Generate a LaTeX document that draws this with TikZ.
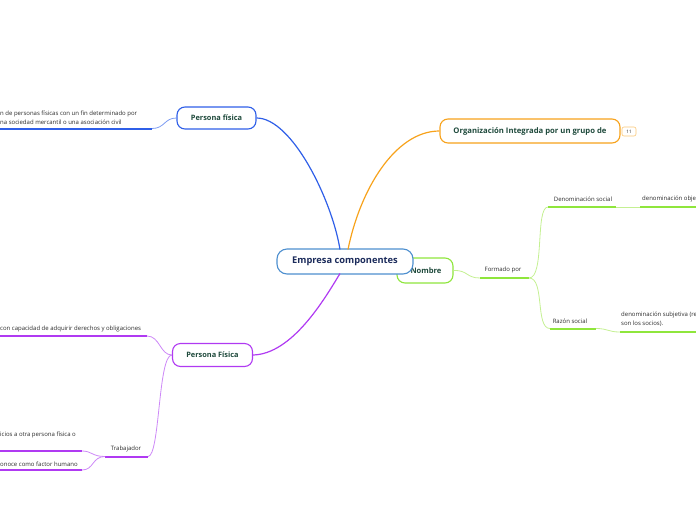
\documentclass[tikz,border=0pt]{standalone}
\usepackage{fontspec}
\setmainfont{Open Sans}
\definecolor{bluea}{HTML}{2F5FE8}
\definecolor{blueb}{HTML}{7D9CF2}
\definecolor{cblue}{HTML}{4D8FCF}
\definecolor{orng}{HTML}{F7A21B}
\definecolor{grn}{HTML}{8FE63C}
\definecolor{grnl}{HTML}{C4F092}
\definecolor{purp}{HTML}{B03AF2}
\definecolor{purpl}{HTML}{CD88F7}
\definecolor{tgreen}{HTML}{1F4A3C}
\definecolor{tnavy}{HTML}{1B2B5B}
\definecolor{tsmall}{HTML}{2A2A2A}
\begin{document}
\begin{tikzpicture}[x=1pt,y=-1pt,
  topic/.style={draw, rounded corners=8pt, fill=white, line width=1.1pt, inner sep=0pt,
    text=tgreen, font=\fontsize{7.4}{9}\selectfont\bfseries},
  small/.style={text=tsmall, font=\fontsize{6}{9}\selectfont, inner sep=0pt, align=left},
  branch/.style={line width=1.2pt},
  uline/.style={line width=2pt},
  thin/.style={line width=0.8pt}]
\useasboundingbox (0,0) rectangle (696,520);

% Nombre (behind center)
\node[topic, draw=grn, minimum width=56pt, minimum height=25pt, text=tgreen, font=\fontsize{7.6}{9}\selectfont\bfseries] (nom) at (425,270.5) {\hspace*{2pt}Nombre};
% center
\node[topic, draw=cblue, minimum width=136pt, minimum height=25pt, rounded corners=10pt, text=tnavy, font=\fontsize{9.3}{11}\selectfont\bfseries] (c) at (345,261.5) {Empresa componentes};

\node[topic, draw=bluea, minimum width=79pt, minimum height=22pt] (pf1) at (216.5,118) {Persona física};
\node[topic, draw=orng, minimum width=180pt, minimum height=24pt, font=\fontsize{7.7}{9}\selectfont\bfseries] (org) at (530,131) {Organización Integrada por un grupo de};
\node[draw=orng!60, fill=white, rounded corners=2pt, line width=0.6pt, minimum width=14pt, minimum height=9pt, inner sep=0pt, text=tsmall, font=\fontsize{4.6}{5}\selectfont] (badge) at (629,131.5) {11};
\node[topic, draw=purp, minimum width=80pt, minimum height=23pt] (pf2) at (212.5,355) {Persona Física};

% main branches
\coordinate (cb1) at (340,249.5);
\coordinate (co1) at (348,249.5);
\coordinate (cp1) at (340,273.5);
\draw[branch, bluea] (pf1.east) .. controls (292,118) and (332,200) .. (cb1);
\draw[branch, orng] (co1) .. controls (360,190) and (395,131) .. (org.west);
\draw[branch, purp] (pf2.east) .. controls (292,354) and (324,300) .. (cp1);

% Persona fisica (top) left
\coordinate (a1) at (152,128.5);
\coordinate (a0) at (0,128.5);
\node[small, anchor=west] (ta) at (0,117.5) {n de personas físicas con un fin determinado por\\na sociedad mercantil o una asociación civil};
\draw[thin, blueb] (pf1.west) .. controls (164,118) and (165,128.5) .. (a1);
\draw[uline, bluea] (a1) -- (a0);

% Nombre -> Formado por
\coordinate (f0) at (480,278);
\coordinate (f1) at (529,278);
\node[small] (tf) at (503,270) {Formado por};
\draw[thin, grnl] (nom.east) .. controls (468,270) and (466,278) .. (f0);
\draw[uline, grn] (f0) -- (f1);

% Denominacion social
\coordinate (d0) at (548,207);
\coordinate (d1) at (616,207);
\coordinate (d2) at (640,207);
\coordinate (d3) at (696,207);
\node[small] (td) at (583,199) {Denominación social};
\draw[thin, grnl] (f1) .. controls (545,278) and (535,207) .. (d0);
\draw[uline, grn] (d0) -- (d1);
\draw[thin, grnl] (d1) -- (d2);
\draw[uline, grn] (d2) -- (d3);
\node[small, anchor=west] (td2) at (642,199) {denominación obje};

% Razon social
\coordinate (r0) at (550,328.5);
\coordinate (r1) at (596,328.5);
\coordinate (r2) at (620,332);
\coordinate (r3) at (696,332);
\node[small] (tr) at (570,321) {Razón social};
\draw[thin, grnl] (f1) .. controls (545,278) and (535,328.5) .. (r0);
\draw[uline, grn] (r0) -- (r1);
\draw[thin, grnl] (r1) .. controls (608,328.5) and (608,332) .. (r2);
\draw[uline, grn] (r2) -- (r3);
\node[small, anchor=west] (tr2) at (621,319.5) {denominación subjetiva (re\\son los socios).};

% Persona Fisica (bottom) left
\coordinate (p1) at (147,336);
\coordinate (p0) at (0,336);
\node[small, anchor=west] (tp) at (0,328.5) {con capacidad de adquirir derechos y obligaciones};
\draw[thin, purpl] (pf2.west) .. controls (160,355) and (160,336) .. (p1);
\draw[uline, purp] (p1) -- (p0);

% Trabajador
\coordinate (w0) at (105,456.5);
\coordinate (w1) at (148,456.5);
\node[small] (tw) at (126,449) {Trabajador};
\draw[thin, purpl] (pf2.west) .. controls (158,355) and (160,456.5) .. (w1);
\draw[uline, purp] (w0) -- (w1);

\coordinate (t1a) at (82,451);
\coordinate (t1b) at (0,451);
\coordinate (t2a) at (82,470);
\coordinate (t2b) at (0,470);
\node[small, anchor=west] (tt1) at (0,435) {icios a otra persona física o};
\node[small, anchor=west] (tt2) at (0,464) {onoce como factor humano};
\draw[thin, purpl] (w0) .. controls (92,456.5) and (92,451) .. (t1a);
\draw[thin, purpl] (w0) .. controls (92,456.5) and (94,470) .. (t2a);
\draw[uline, purp] (t1a) -- (t1b);
\draw[uline, purp] (t2a) -- (t2b);
\end{tikzpicture}
\end{document}
